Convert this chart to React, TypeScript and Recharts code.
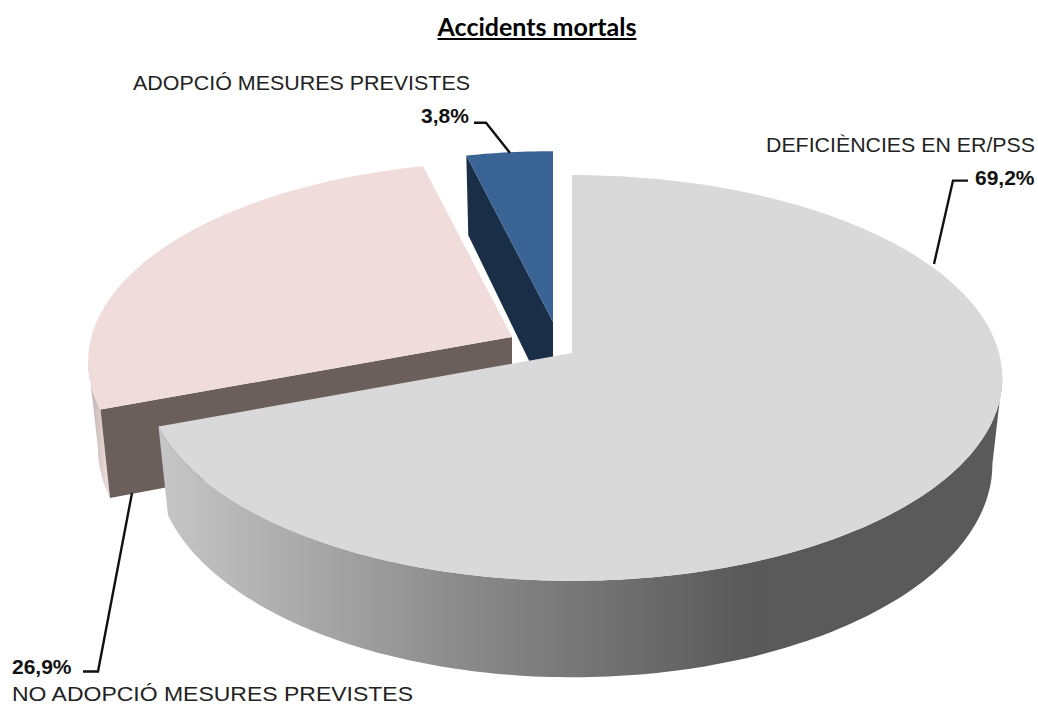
import { PieChart, Pie } from 'recharts';

const categories = ['NO ADOPCIÓ MESURES PREVISTES', 'ADOPCIÓ MESURES PREVISTES', 'DEFICIÈNCIES EN ER/PSS'];
const values = [26.9, 3.8, 69.2];
const percentLabels = ['26,9%', '3,8%', '69,2%'];

const WIDTH = 1038;
const HEIGHT = 704;
const CX = 572;
const CY = 353;
const RX = 427;
const RY_RATIO = 0.468;
// perspective strength: the back of the pie looks smaller than the front
const PERSPECTIVE = 0.123;
const VISIBLE_FROM = 97;
const VISIBLE_TO = 263;

// one style per slice, same order as categories
const sliceStyles = [
  { top: '#f0dcda', cut: '#6b5f5c', outer: 'url(#pinkSide)', dx: -60, dy: -16, scale: 0.985, depth: 85, leftSquash: 1 },
  { top: '#3a6496', cut: '#1b2e47', outer: '#1b2e47', dx: -19, dy: -31, scale: 0.96, depth: 88, leftSquash: 1 },
  { top: '#d9d9d9', cut: '#8a8a8a', outer: 'url(#graySide)', dx: 0, dy: 0, scale: 1, depth: 85, leftSquash: 0.99 },
];

const labelStyles = [
  { nameX: 12, nameY: 701, nameLen: 401, pctX: 12, pctY: 674, line: '83,671.5 98,671.5 132,493' },
  { nameX: 133, nameY: 90, nameLen: 337, pctX: 421, pctY: 123, line: '474,122.7 486,122.7 510,153' },
  { nameX: 766, nameY: 152, nameLen: 269, pctX: 975, pctY: 185, line: '968,180.6 953,180.6 934,264' },
];

const total = values.reduce((a, b) => a + b, 0);
// last slice has to finish at twelve o'clock
const firstSweep = ((values[0] + values[1]) / total) * 360;
const START_ANGLE = 90 - (360 - firstSweep);

const chartData = categories.map((name, i) => ({ name, value: values[i], index: i }));

function project(theta: number, cx: number, cy: number, rx: number, ry: number, leftSquash = 1) {
  const t = (theta * Math.PI) / 180;
  const s = 1 / (1 + PERSPECTIVE * Math.cos(t));
  const u = Math.sin(t);
  return [cx + rx * u * s * (u < 0 ? leftSquash : 1), cy - ry * Math.cos(t) * s];
}

function arcPoints(from: number, to: number, cx: number, cy: number, rx: number, ry: number, leftSquash = 1) {
  const pts: number[][] = [];
  const steps = Math.max(2, Math.ceil(Math.abs(to - from)));
  for (let i = 0; i <= steps; i++) {
    pts.push(project(from + ((to - from) * i) / steps, cx, cy, rx, ry, leftSquash));
  }
  return pts;
}

const toPath = (pts: number[][]) =>
  'M' + pts.map((p) => `${p[0].toFixed(1)},${p[1].toFixed(1)}`).join('L') + 'Z';

// draws a slice as a 3D wedge out of the angles the Pie worked out
function Slice3D(props: any) {
  const { cx, cy, outerRadius, startAngle, endAngle } = props;
  const st = sliceStyles[props.payload?.index ?? props.index ?? 0];
  // clockwise degrees from twelve o'clock; rounded first, the Pie's angles can land on 359.9999
  const sweep = startAngle - endAngle;
  const from = ((Math.round((90 - startAngle) * 100) / 100) % 360 + 360) % 360;
  const to = from + sweep;
  const x = cx + st.dx;
  const y = cy + st.dy;
  const rx = outerRadius * st.scale;
  const ry = outerRadius * RY_RATIO * st.scale;
  const lowX = rx * 0.977;
  const lowY = ry * 1.05;
  const lowC = y + st.depth;
  const sq = st.leftSquash;

  const topArc = arcPoints(from, to, x, y, rx, ry, sq);
  const apex = [x, y];
  const apexLow = [x, lowC];
  const cornerTop = project(from, x, y, rx, ry, sq);
  const cornerLow = project(from, x, lowC, lowX, lowY, sq);

  const a = Math.max(from, VISIBLE_FROM);
  const b = Math.min(to, VISIBLE_TO);
  const outer =
    a < b ? [...arcPoints(a, b, x, y, rx, ry, sq), ...arcPoints(b, a, x, lowC, lowX, lowY, sq)] : null;

  return (
    <g>
      {outer && <path d={toPath(outer)} fill={st.outer} />}
      <path d={toPath([apex, cornerTop, cornerLow, apexLow])} fill={st.cut} />
      <path d={toPath([apex, ...topArc])} fill={st.top} />
    </g>
  );
}

function SliceLabel(props: any) {
  const i = props.payload?.index ?? props.index;
  const l = labelStyles[i];
  return (
    <g>
      <text
        x={l.nameX}
        y={l.nameY}
        fontFamily="Liberation Sans"
        fontSize={21}
        fill="#222"
        textLength={l.nameLen}
        lengthAdjust="spacingAndGlyphs"
      >
        {categories[i]}
      </text>
      <text x={l.pctX} y={l.pctY} fontFamily="Liberation Sans" fontSize={21} fontWeight={700} fill="#111">
        {percentLabels[i]}
      </text>
      <polyline points={l.line} fill="none" stroke="#111" strokeWidth={2.4} />
    </g>
  );
}

export default function App() {
  return (
    <div style={{ position: 'absolute', left: 0, top: 0, width: WIDTH, height: HEIGHT, overflow: 'hidden', background: '#fff' }}>
      <div
        style={{
          position: 'absolute',
          top: 11,
          left: 0,
          width: 1074,
          textAlign: 'center',
          fontFamily: 'Lato',
          fontWeight: 700,
          fontSize: 25,
          lineHeight: '30px',
          textDecoration: 'underline',
          color: '#000',
        }}
      >
        Accidents mortals
      </div>
      <PieChart width={WIDTH} height={HEIGHT} margin={{ top: 0, right: 0, bottom: 0, left: 0 }}>
        <defs>
          <linearGradient id="graySide" gradientUnits="userSpaceOnUse" x1={160} y1={0} x2={1000} y2={0}>
            <stop offset="0%" stopColor="#c6c6c6" />
            <stop offset="35%" stopColor="#8c8c8c" />
            <stop offset="70%" stopColor="#595959" />
            <stop offset="100%" stopColor="#5a5a5a" />
          </linearGradient>
          <linearGradient id="pinkSide" gradientUnits="userSpaceOnUse" x1={88} y1={0} x2={108} y2={0}>
            <stop offset="0%" stopColor="#b9aeac" />
            <stop offset="100%" stopColor="#efdcda" />
          </linearGradient>
        </defs>
        <Pie
          data={chartData}
          dataKey="value"
          nameKey="name"
          cx={CX}
          cy={CY}
          innerRadius={0}
          outerRadius={RX}
          startAngle={START_ANGLE}
          endAngle={START_ANGLE - 360}
          stroke="none"
          shape={Slice3D}
          label={SliceLabel}
          labelLine={false}
          isAnimationActive={false}
        />
      </PieChart>
    </div>
  );
}
